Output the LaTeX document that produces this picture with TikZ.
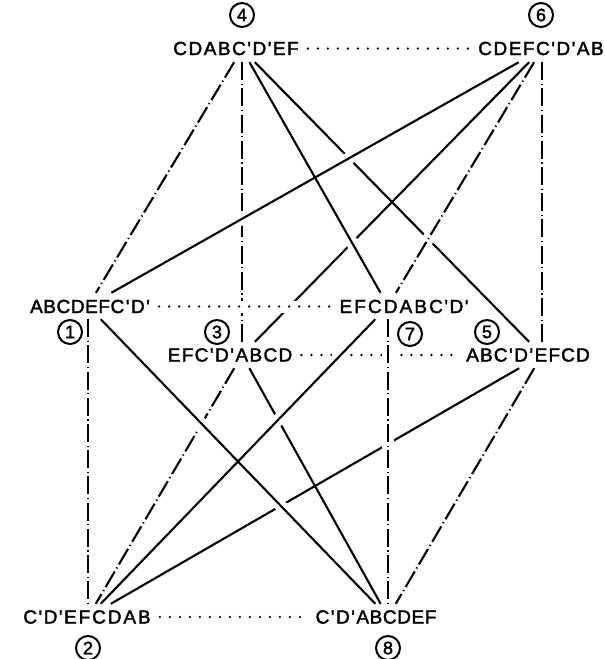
\documentclass[tikz,border=0pt]{standalone}
\usepackage{fontspec}
\setmainfont{Liberation Sans}[FakeBold=2]
\newcommand{\pq}{\hspace{0.08em}\textquotesingle\hspace{0.08em}}
\newcommand{\lblfont}[1]{\fontsize{19}{19}\selectfont\addfontfeatures{LetterSpace=#1}}
\begin{document}
\begin{tikzpicture}[x=1pt,y=-1pt,
  vtx/.style={rectangle, inner sep=0pt, minimum width=130pt, minimum height=26pt},
  lbl/.style={inner sep=0pt},
  num/.style={circle, draw, line width=2pt, minimum size=24pt, inner sep=0pt, font=\fontsize{18}{18}\selectfont},
  solidedge/.style={line width=2.1pt},
  dashdot/.style={line width=2.1pt, dash pattern=on 18pt off 3.5pt on 1.2pt off 3.5pt},
  dotline/.style={line width=2.6pt, line cap=round, dash pattern=on 0pt off 10pt},
  halo/.style={draw=white, line width=12pt, shorten <=20pt, shorten >=20pt}]
\useasboundingbox (0,0) rectangle (605,659);
% vertex points
\node[vtx] (v4) at (242,49) {};
\node[vtx] (v6) at (542,49) {};
\node[vtx] (v1) at (88,306) {};
\node[vtx] (v7) at (388,306) {};
\node[vtx] (v3) at (242,355) {};
\node[vtx] (v5) at (542,355) {};
\node[vtx] (v2) at (88,617) {};
\node[vtx] (v8) at (388,617) {};
% labels
\node[lbl, font=\lblfont{8}] (t4) at (236,48.5) {CDABC\pq D\pq EF};
\node[lbl, font=\lblfont{8}] (t6) at (541,48.5) {CDEFC\pq D\pq AB};
\node[lbl, font=\lblfont{3}] (t1) at (90,306.5) {ABCDEFC\pq D\pq};
\node[lbl, font=\lblfont{11}] (t7) at (404,306.5) {EFCDABC\pq D\pq};
\node[lbl, font=\lblfont{7}] (t3) at (230,355) {EFC\pq D\pq ABCD};
\node[lbl, font=\lblfont{6}] (t5) at (528,355) {ABC\pq D\pq EFCD};
\node[lbl, font=\lblfont{10}] (t2) at (87,617) {C\pq D\pq EFCDAB};
\node[lbl, font=\lblfont{3}] (t8) at (376,617) {C\pq D\pq ABCDEF};
% circled numbers
\node[num] (n4) at (242,15) {4};
\node[num] (n6) at (541,15) {6};
\node[num] (n1) at (70,332) {1};
\node[num] (n3) at (217,332) {3};
\node[num] (n7) at (410,334) {7};
\node[num] (n5) at (487,332) {5};
\node[num] (n2) at (88,648) {2};
\node[num] (n8) at (388,648) {8};
% hidden edges
\draw[solidedge] (v4) -- (v5);
\draw[solidedge] (v6) -- (v3);
\draw[solidedge] (v3) -- (v8);
\draw[solidedge] (v5) -- (v2);
\draw[dashdot] (v4) -- (v3);
\draw[dashdot] (v3) -- (v2);
\draw[dotline] ([xshift=9pt]t3.east) -- ([xshift=-9pt]t5.west);
% halos of visible edges
\foreach \a/\b in {4/1,4/7,6/1,6/7,1/2,7/8,6/5,5/8,1/8,7/2}
  \path[halo] (v\a) -- (v\b);
\path[draw=white, line width=12pt] ([xshift=9pt]t1.east) -- ([xshift=-9pt]t7.west);
% visible edges
\draw[dotline] ([xshift=9pt]t4.east) -- ([xshift=-9pt]t6.west);
\draw[dotline] ([xshift=9pt]t1.east) -- ([xshift=-9pt]t7.west);
\draw[dotline] ([xshift=9pt]t2.east) -- ([xshift=-9pt]t8.west);
\foreach \a/\b in {1/2,7/8,6/5,4/1,6/7,5/8}
  \draw[dashdot] (v\a) -- (v\b);
\foreach \a/\b in {4/7,6/1,1/8,7/2}
  \draw[solidedge] (v\a) -- (v\b);
\end{tikzpicture}
\end{document}
